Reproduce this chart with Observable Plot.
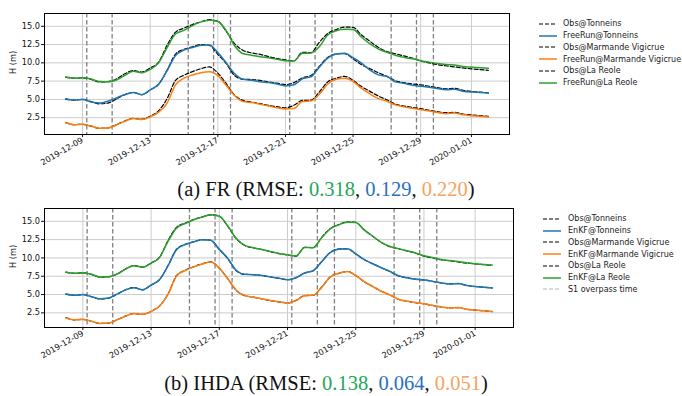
<!DOCTYPE html>
<html><head><meta charset="utf-8">
<script src="https://cdn.jsdelivr.net/npm/d3@7"></script>
<script src="https://cdn.jsdelivr.net/npm/@observablehq/plot@0.6"></script>
<style>
body{margin:0;background:#fff;}
#fig{position:relative;width:682px;height:396px;overflow:hidden;font-family:"DejaVu Sans",sans-serif;}
.legend{position:absolute;font-size:8px;color:#222;}
.legend div{display:flex;align-items:center;height:11.75px;white-space:nowrap}
.legend svg{display:block}
.cap{position:absolute;left:0;width:652px;text-align:center;font-family:"Liberation Serif","Times New Roman",serif;font-size:20.5px;line-height:1;color:#111;white-space:nowrap}
</style></head><body><div id="fig"></div><script>
// time grid: every 12 hours from 2019-12-08 to 2020-01-02
const start = Date.UTC(2019, 11, 8);
const times = d3.range(51).map(i => new Date(start + i * 12 * 3600e3));

const obsTonneins = [5.05,4.9,5.0,4.7,4.4,4.5,5.05,5.65,5.95,5.65,6.3,7.05,9.0,11.2,11.85,12.2,12.5,12.4,11.15,9.9,8.25,7.75,7.72,7.6,7.4,7.22,7.02,7.3,7.95,8.25,9.5,10.75,11.22,11.25,10.55,9.75,9.2,8.65,8.15,7.55,7.3,7.1,7.0,6.8,6.6,6.45,6.5,6.25,6.1,6.0,5.9];
const obsMarmande = [1.85,1.55,1.6,1.35,1.05,1.1,1.55,2.05,2.4,2.3,2.7,3.45,5.1,7.6,8.3,8.8,9.2,9.45,8.6,7.15,5.55,4.86,4.64,4.42,4.18,4.0,3.85,4.2,4.86,4.9,6.0,7.4,7.9,8.15,7.6,6.75,6.1,5.45,4.95,4.35,4.1,3.9,3.73,3.52,3.32,3.18,3.22,3.0,2.88,2.78,2.68];
const obsLaReole = [8.05,7.9,7.95,7.75,7.38,7.42,7.8,8.5,8.95,8.75,9.3,10.1,12.4,14.2,14.75,15.25,15.6,15.9,15.7,14.3,12.6,11.7,11.36,11.15,10.85,10.6,10.4,10.25,11.45,11.4,12.8,14.0,14.55,14.9,14.85,13.8,12.95,12.1,11.55,11.25,10.95,10.65,10.25,10.0,9.75,9.6,9.45,9.3,9.18,9.08,8.98];

const frTonneins = [5.1,4.9,5.0,4.65,4.5,4.75,5.2,5.65,5.95,5.65,6.3,7.1,8.95,11.0,11.75,12.1,12.4,12.45,11.4,10.0,8.5,7.75,7.62,7.4,7.3,7.1,6.85,7.0,7.82,8.08,9.4,10.65,11.22,11.3,10.7,9.95,9.0,8.35,8.15,7.4,7.2,6.95,6.8,6.65,6.48,6.32,6.4,6.12,6.0,5.95,5.88];
const frMarmande = [1.8,1.55,1.6,1.35,1.05,1.1,1.5,2.0,2.4,2.25,2.6,3.25,4.5,7.0,7.9,8.35,8.65,8.78,8.25,6.9,5.5,4.7,4.58,4.35,4.1,3.85,3.7,3.75,4.73,4.78,5.7,7.1,7.75,7.9,7.45,6.5,5.75,5.1,4.75,4.25,3.98,3.78,3.6,3.42,3.22,3.05,3.15,2.9,2.78,2.68,2.6];
const frLaReole = [8.05,7.9,7.95,7.8,7.45,7.4,7.65,8.3,8.85,8.65,9.1,10.0,12.1,13.95,14.45,15.1,15.6,15.82,15.65,14.4,12.3,11.25,11.05,10.85,10.7,10.5,10.3,10.27,11.3,11.35,12.2,13.8,14.4,14.6,14.55,13.5,12.6,11.9,11.45,11.05,10.75,10.55,10.3,10.1,9.9,9.78,9.72,9.5,9.42,9.33,9.25];

const enkfTonneins = [5.06,4.9,4.99,4.7,4.42,4.52,5.05,5.64,5.94,5.66,6.3,7.06,8.95,11.15,11.83,12.2,12.48,12.4,11.18,9.92,8.28,7.76,7.72,7.6,7.4,7.22,7.03,7.3,7.94,8.25,9.48,10.73,11.2,11.24,10.56,9.76,9.2,8.66,8.16,7.56,7.3,7.1,7.0,6.8,6.6,6.45,6.5,6.25,6.1,6.0,5.9];
const enkfMarmande = [1.84,1.56,1.6,1.36,1.06,1.1,1.54,2.05,2.4,2.3,2.7,3.43,5.05,7.55,8.28,8.78,9.18,9.43,8.6,7.16,5.56,4.86,4.64,4.42,4.18,4.0,3.85,4.18,4.85,4.9,5.98,7.38,7.88,8.14,7.6,6.76,6.1,5.45,4.95,4.36,4.1,3.9,3.73,3.52,3.32,3.18,3.22,3.0,2.88,2.78,2.68];
const enkfLaReole = [8.06,7.92,7.94,7.77,7.4,7.43,7.78,8.47,8.93,8.74,9.27,10.08,12.3,14.1,14.7,15.22,15.58,15.86,15.7,14.35,12.65,11.72,11.38,11.15,10.86,10.62,10.42,10.28,11.42,11.4,12.75,13.95,14.52,14.88,14.84,13.82,12.96,12.12,11.57,11.27,10.97,10.68,10.3,10.05,9.8,9.65,9.5,9.35,9.22,9.12,9.02];

const overpassTimes = ["2019-12-09T06:00Z","2019-12-10T18:00Z","2019-12-15T06:00Z","2019-12-16T18:00Z","2019-12-17T18:00Z","2019-12-21T06:00Z","2019-12-22T18:00Z","2019-12-23T18:00Z","2019-12-27T06:00Z","2019-12-28T18:00Z","2019-12-29T18:00Z"];
const xTickLabels = ["2019-12-09","2019-12-13","2019-12-17","2019-12-21","2019-12-25","2019-12-29","2020-01-01"];
const yTicks = [2.5, 5.0, 7.5, 10.0, 12.5, 15.0];
const stations = ["Tonneins", "Marmande Vigicrue", "La Reole"];
const stationColors = ["#1f77b4", "#ff7f0e", "#2ca02c"];

const overpass = overpassTimes.map(s => new Date(s));
const xTicks = xTickLabels.map(s => new Date(s + "T00:00Z"));
const rows = arr => times.map((t, i) => ({t, h: arr[i]}));

function makePanel({obs, model, marginRight, marginBottom, yDomain}) {
  const marks = [
    Plot.gridX({ticks: xTicks, stroke: "#cccccc", strokeOpacity: 1, strokeWidth: 1}),
    Plot.gridY({ticks: yTicks, stroke: "#cccccc", strokeOpacity: 1, strokeWidth: 1}),
    Plot.ruleX(overpass, {stroke: "#808080", strokeWidth: 1.3, strokeDasharray: "4.5,2.5"})
  ];
  stations.forEach((s, k) => {
    marks.push(Plot.line(rows(obs[k]), {x: "t", y: "h", stroke: "#000", strokeWidth: 1.2, strokeDasharray: "4,2", curve: "monotone-x"}));
    marks.push(Plot.line(rows(model[k]), {x: "t", y: "h", stroke: stationColors[k], strokeWidth: 1.5, curve: "monotone-x"}));
  });
  marks.push(
    Plot.frame({stroke: "#000", strokeWidth: 1}),
    Plot.axisX({ticks: xTicks, tickFormat: d3.utcFormat("%Y-%m-%d"), tickRotate: -30, tickSize: 3, tickPadding: 2, label: null, fill: "#111"}),
    Plot.axisY({ticks: yTicks, tickFormat: d3.format(".1f"), tickSize: 3, tickPadding: 1.5, label: null, fill: "#111"}),
    Plot.text(["H (m)"], {frameAnchor: "left", dx: -31, rotate: -90, text: d => d, fill: "#111"})
  );
  const svg = Plot.plot({
    width: 682, height: 180,
    marginLeft: 44, marginRight, marginTop: 13, marginBottom,
    x: {type: "utc", domain: [new Date(Date.UTC(2019, 11, 6, 18)), new Date(Date.UTC(2020, 0, 3, 6))]},
    y: {domain: yDomain},
    style: {fontFamily: "DejaVu Sans", fontSize: "8.2px", background: "transparent", color: "#111"},
    marks
  });
  svg.style.position = "absolute";
  svg.style.left = "0px";
  return svg;
}

function legend(top, left, items, gap) {
  const div = document.createElement("div");
  div.className = "legend";
  div.style.top = top + "px"; div.style.left = left + "px";
  items.forEach(it => {
    const row = document.createElement("div");
    row.innerHTML = `<svg width="${18 + gap}" height="6"><line x1="0" x2="18" y1="3" y2="3" stroke="${it.color}" stroke-width="${it.w}" ${it.dash ? `stroke-dasharray="${it.dash}"` : ""}/></svg><span>${it.label}</span>`;
    div.appendChild(row);
  });
  return div;
}

function caption(top, tag, vals) {
  const div = document.createElement("div");
  div.className = "cap";
  div.style.top = top + "px";
  const c = ["#1fa65a", "#2a70c0", "#f5a35e"];
  div.innerHTML = `${tag} (RMSE: <span style="color:${c[0]}">${vals[0]}</span>, <span style="color:${c[1]}">${vals[1]}</span>, <span style="color:${c[2]}">${vals[2]}</span>)`;
  return div;
}

const fig = document.getElementById("fig");
const pa = makePanel({obs: [obsTonneins, obsMarmande, obsLaReole], model: [frTonneins, frMarmande, frLaReole], marginRight: 173, marginBottom: 46, yDomain: [0.2, 16.75]});
pa.style.top = "0px";
fig.appendChild(pa);
const pb = makePanel({obs: [obsTonneins, obsMarmande, obsLaReole], model: [enkfTonneins, enkfMarmande, enkfLaReole], marginRight: 169, marginBottom: 48, yDomain: [0.5, 16.75]});
pb.style.top = "195px";
fig.appendChild(pb);

const itemsA = [], itemsB = [];
stations.forEach((s, k) => {
  itemsA.push({label: "Obs@" + s, color: "#000", w: 1.2, dash: "4,2"});
  itemsA.push({label: "FreeRun@" + s, color: stationColors[k], w: 1.5});
  itemsB.push({label: "Obs@" + s, color: "#000", w: 1.2, dash: "4,2"});
  itemsB.push({label: "EnKF@" + s, color: stationColors[k], w: 1.5});
});
itemsB.push({label: "S1 overpass time", color: "#b8b8b8", w: 1.2, dash: "4,2"});
fig.appendChild(legend(18, 539, itemsA, 6));
fig.appendChild(legend(213, 543, itemsB, 7));
fig.appendChild(caption(178.5, "(a) FR", ["0.318", "0.129", "0.220"]));
fig.appendChild(caption(373, "(b) IHDA", ["0.138", "0.064", "0.051"]));
</script></body></html>
